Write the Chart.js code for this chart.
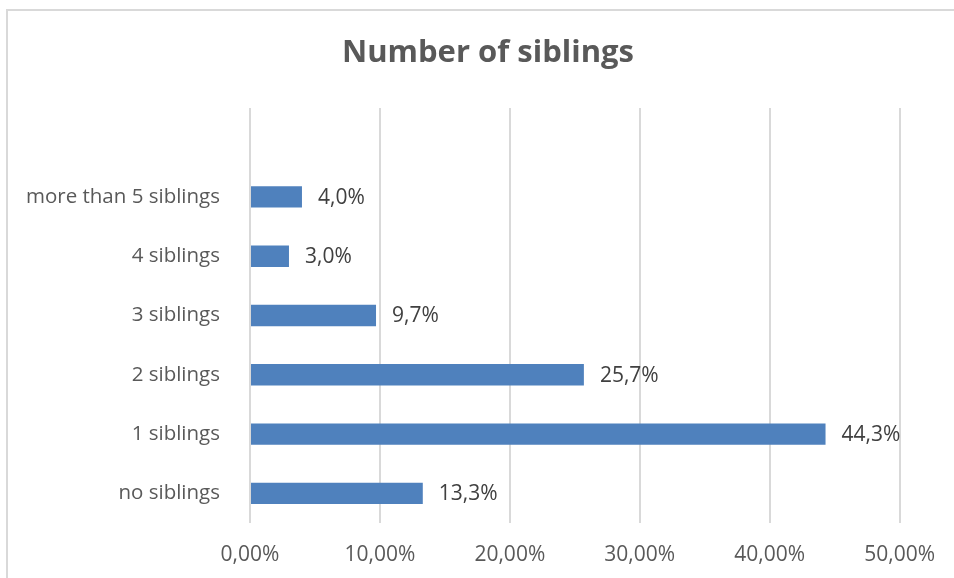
<!DOCTYPE html>
<html>
<head>
<meta charset="utf-8">
<script src="https://cdn.jsdelivr.net/npm/chart.js@4/dist/chart.umd.min.js"></script>
<style>
  html, body { margin: 0; padding: 0; background: #fff; }
  #wrap { position: relative; width: 954px; height: 578px; overflow: hidden; }
  #frame { position: absolute; left: 6px; top: 9px; width: 980px; height: 600px;
           border-top: 2px solid #d9d9d9; border-left: 2px solid #d9d9d9; }
  canvas { position: absolute; left: 0; top: 0; }
</style>
</head>
<body>
<div id="wrap">
  <div id="frame"></div>
  <canvas id="siblingsChart" width="954" height="578"></canvas>
</div>
<script>
// first row is blank in the source sheet, keeps the gap above the bars
var categories = ['', 'more than 5 siblings', '4 siblings', '3 siblings', '2 siblings', '1 siblings', 'no siblings'];
var shares = [null, 4.0, 3.0, 9.7, 25.7, 44.3, 13.3];
var axisTicks = [0, 10, 20, 30, 40, 50];
var chartTitle = 'Number of siblings';

var FONT = "'Open Sans', sans-serif";

function comma(v, digits) {
  return v.toFixed(digits).replace('.', ',');
}

// title centred over the whole frame, not the padded layout box
var titleText = {
  id: 'titleText',
  afterDraw: function(chart) {
    var ctx = chart.ctx;
    ctx.save();
    ctx.font = 'bold 31px ' + FONT;
    ctx.fillStyle = '#595959';
    ctx.textAlign = 'center';
    ctx.textBaseline = 'middle';
    ctx.fillText(chartTitle, 488, 53);
    ctx.restore();
  }
};

// value labels to the right of each bar
var barLabels = {
  id: 'barLabels',
  afterDatasetsDraw: function(chart) {
    var ctx = chart.ctx;
    var meta = chart.getDatasetMeta(0);
    ctx.save();
    ctx.font = '21px ' + FONT;
    ctx.fillStyle = '#404040';
    ctx.textAlign = 'left';
    ctx.textBaseline = 'middle';
    meta.data.forEach(function(bar, i) {
      var v = shares[i];
      if (v == null) return;
      ctx.fillText(comma(v, 1) + '%', bar.x + 16, bar.y + 1);
    });
    ctx.restore();
  }
};

new Chart(document.getElementById('siblingsChart'), {
  type: 'bar',
  data: {
    labels: categories,
    datasets: [{
      data: shares,
      backgroundColor: '#4f81bd',
      borderWidth: 0,
      barPercentage: 0.36,
      categoryPercentage: 1
    }]
  },
  options: {
    indexAxis: 'y',
    responsive: false,
    animation: false,
    layout: { padding: { left: 0, right: 48, top: 108, bottom: 0 } },
    plugins: {
      legend: { display: false },
      tooltip: { enabled: false },
      title: { display: false }
    },
    scales: {
      x: {
        min: 0,
        max: 50,
        afterBuildTicks: function(scale) {
          scale.ticks = axisTicks.map(function(v) { return { value: v }; });
        },
        afterFit: function(scale) { scale.height = 55; },
        grid: { color: '#d9d9d9', lineWidth: 2, drawTicks: false },
        border: { display: false },
        ticks: {
          color: '#595959',
          font: { family: FONT, size: 21 },
          padding: 19,
          maxRotation: 0,
          callback: function(v) { return comma(v, 2) + '%'; }
        }
      },
      y: {
        afterFit: function(scale) { scale.width = 250; },
        grid: { display: false },
        border: { display: false },
        ticks: {
          color: '#595959',
          font: { family: FONT, size: 20.5 },
          padding: 22
        }
      }
    }
  },
  plugins: [barLabels, titleText]
});
</script>
</body>
</html>
